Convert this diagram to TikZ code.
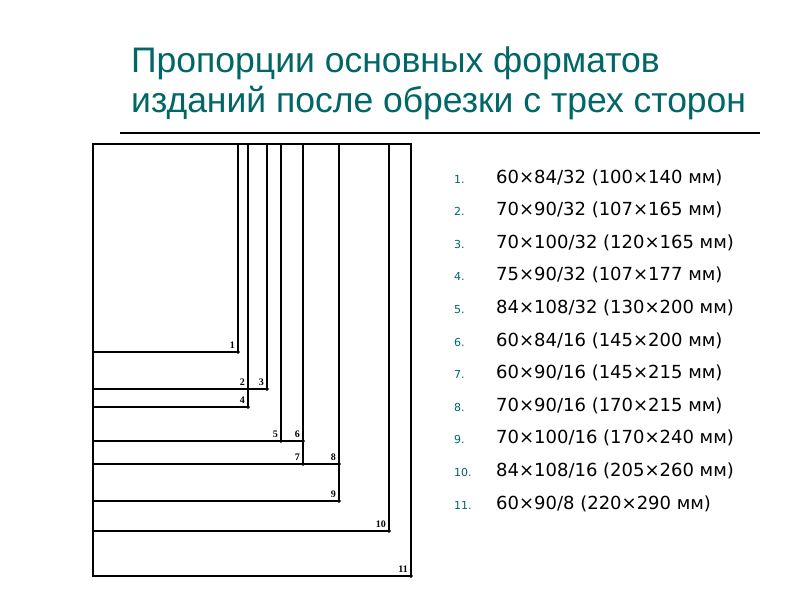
\documentclass[tikz,border=0pt]{standalone}
\usepackage{fontspec}
\setmainfont{DejaVu Sans}
\newfontfamily\titlefont{Liberation Sans}
\newfontfamily\labelfont{Liberation Serif}
\definecolor{titleteal}{RGB}{0,102,102}

\begin{document}
\begin{tikzpicture}[x=1pt,y=-1pt,
  fmt/.style={line width=1.1pt},
  tag/.style={font=\labelfont\bfseries\fontsize{10}{10}\selectfont, anchor=south east, inner sep=3pt},
  head/.style={font=\titlefont\fontsize{35.5}{40}\selectfont, text=titleteal, anchor=base west, inner sep=0pt},
  num/.style={font=\fontsize{11}{11}\selectfont, text=titleteal, anchor=base west, inner sep=0pt},
  item/.style={font=\fontsize{18}{18}\selectfont, anchor=base west, inner sep=0pt}]
  \useasboundingbox (0,0) rectangle (800,600);
  % заголовок
  \node[head] (title1) at (131,72) {Пропорции основных форматов};
  \node[head] (title2) at (131,112) {изданий после обрезки с трех сторон};
  \draw[line width=1.2pt] (120,133) -- (760,133);
  % форматы
  \coordinate (tl) at (93,144);
  \foreach \n/\x/\y in {1/238/352, 2/248/389, 3/267/389, 4/248/407, 5/281/441,
      6/303/441, 7/303/464, 8/339/464, 9/339/501, 10/389/531, 11/411/576} {
    \coordinate (c\n) at (\x,\y);
    \draw[fmt] (tl) rectangle (c\n);
    \filldraw (c\n) circle (1.6pt);
    \node[tag] (l\n) at (c\n) {\n};
  }
  % список
  \foreach \t [count=\i] in {{60×84/32 (100×140 мм)}, {70×90/32 (107×165 мм)},
      {70×100/32 (120×165 мм)}, {75×90/32 (107×177 мм)}, {84×108/32 (130×200 мм)},
      {60×84/16 (145×200 мм)}, {60×90/16 (145×215 мм)}, {70×90/16 (170×215 мм)},
      {70×100/16 (170×240 мм)}, {84×108/16 (205×260 мм)}, {60×90/8 (220×290 мм)}} {
    \node[num] (num\i) at (454,{183+32.6*(\i-1)}) {\i.};
    \node[item] (item\i) at (496,{183+32.6*(\i-1)}) {\t};
  }
\end{tikzpicture}
\end{document}
